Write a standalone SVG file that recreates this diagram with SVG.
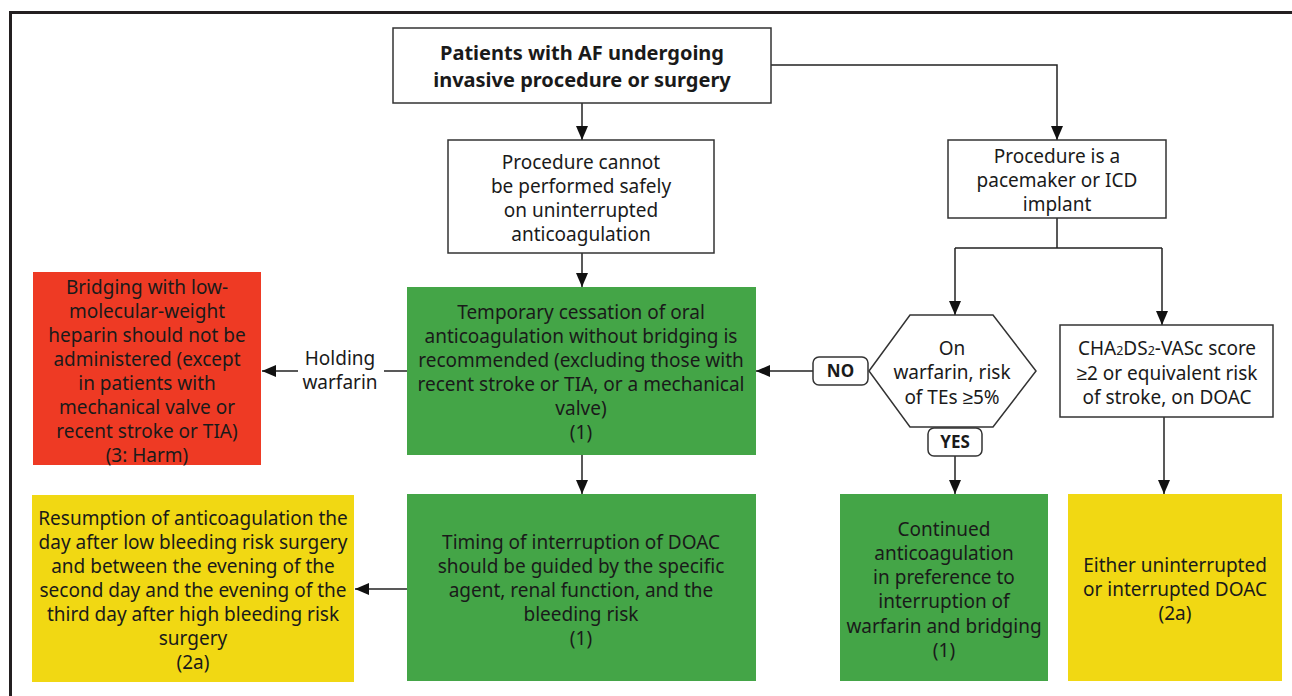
<svg xmlns="http://www.w3.org/2000/svg" width="1292" height="696" viewBox="0 0 1292 696">
<defs>
<style>
.t{font-family:"Noto Sans","Liberation Sans",sans-serif;font-size:19px;fill:#1a1a1a;text-anchor:middle}
.b{font-weight:bold}
.wb{fill:#fff;stroke:#333;stroke-width:1.5}
.g{fill:#44a547}
.r{fill:#ee3a24}
.y{fill:#f1d813}
.c{fill:none;stroke:#222;stroke-width:1.5}
.lab{fill:#fff;stroke:#333;stroke-width:1.5}
</style>
<marker id="ah" viewBox="0 0 14 12" refX="14" refY="6" markerWidth="14" markerHeight="12" markerUnits="userSpaceOnUse" orient="auto">
<path d="M0,0 L14,6 L0,12 Z" fill="#111"/>
</marker>
</defs>
<rect width="1292" height="696" fill="#fff"/>
<path d="M10.5,696 V12.5 H1292" fill="none" stroke="#231f20" stroke-width="3"/>

<g id="connectors">
<path class="c" d="M582,103 V140" marker-end="url(#ah)"/>
<path class="c" d="M771,65 H1057 V140" marker-end="url(#ah)"/>
<path class="c" d="M582,253 V287" marker-end="url(#ah)"/>
<path class="c" d="M582,455 V494" marker-end="url(#ah)"/>
<path class="c" d="M1057,218 V248 M955,248 H1162"/>
<path class="c" d="M955,248 V315" marker-end="url(#ah)"/>
<path class="c" d="M1162,248 V325" marker-end="url(#ah)"/>
<path class="c" d="M813,371 H756" marker-end="url(#ah)"/>
<path class="c" d="M955,456 V494" marker-end="url(#ah)"/>
<path class="c" d="M1164,417 V494" marker-end="url(#ah)"/>
<path class="c" d="M407,371 H384"/>
<path class="c" d="M298,371 H262" marker-end="url(#ah)"/>
<path class="c" d="M407,589 H355" marker-end="url(#ah)"/>
<text class="t" x="340" y="365">Holding</text>
<text class="t" x="340" y="389">warfarin</text>
</g>

<g id="n_start">
<rect class="wb" x="393" y="28" width="378" height="75"/>
<text class="t b" x="582" y="60" style="font-size:20px">Patients with AF undergoing</text>
<text class="t b" x="582" y="87" style="font-size:20px">invasive procedure or surgery</text>
</g>

<g id="n_cannot">
<rect class="wb" x="448" y="140" width="266" height="113"/>
<text class="t" x="581" y="169">Procedure cannot</text>
<text class="t" x="581" y="193">be performed safely</text>
<text class="t" x="581" y="217">on uninterrupted</text>
<text class="t" x="581" y="241">anticoagulation</text>
</g>

<g id="n_pacemaker">
<rect class="wb" x="948" y="140" width="218" height="78"/>
<text class="t" x="1057" y="163">Procedure is a</text>
<text class="t" x="1057" y="187">pacemaker or ICD</text>
<text class="t" x="1057" y="211">implant</text>
</g>

<g id="n_cessation">
<rect class="g" x="407" y="287" width="349" height="168"/>
<text class="t" x="581" y="319">Temporary cessation of oral</text>
<text class="t" x="581" y="343">anticoagulation without bridging is</text>
<text class="t" x="581" y="367">recommended (excluding those with</text>
<text class="t" x="581" y="391">recent stroke or TIA, or a mechanical</text>
<text class="t" x="581" y="415">valve)</text>
<text class="t" x="581" y="439">(1)</text>
</g>

<g id="n_bridging">
<rect class="r" x="33" y="272" width="228" height="193"/>
<text class="t" x="147" y="294">Bridging with low-</text>
<text class="t" x="147" y="318">molecular-weight</text>
<text class="t" x="147" y="342">heparin should not be</text>
<text class="t" x="147" y="366">administered (except</text>
<text class="t" x="147" y="390">in patients with</text>
<text class="t" x="147" y="414">mechanical valve or</text>
<text class="t" x="147" y="438">recent stroke or TIA)</text>
<text class="t" x="147" y="462">(3: Harm)</text>
</g>

<g id="n_warfarin">
<polygon class="wb" points="869,371 910,315 993,315 1036,371 993,427 910,427"/>
<text class="t" x="952" y="355">On</text>
<text class="t" x="952" y="379">warfarin, risk</text>
<text class="t" x="952" y="404">of TEs ≥5%</text>
</g>

<g id="l_no">
<rect class="lab" x="813" y="357" width="55" height="28" rx="6"/>
<text class="t b" x="840.5" y="377" style="font-size:17px">NO</text>
</g>

<g id="l_yes">
<rect class="lab" x="928" y="428" width="54" height="28" rx="6"/>
<text class="t b" x="955" y="448" style="font-size:17px">YES</text>
</g>

<g id="n_cha">
<rect class="wb" x="1060" y="325" width="213" height="92"/>
<text class="t" x="1167" y="355">CHA<tspan style="font-size:12.5px">2</tspan>DS<tspan style="font-size:12.5px">2</tspan>-VASc score</text>
<text class="t" x="1167" y="380">≥2 or equivalent risk</text>
<text class="t" x="1167" y="404">of stroke, on DOAC</text>
</g>

<g id="n_timing">
<rect class="g" x="407" y="494" width="349" height="187"/>
<text class="t" x="581" y="549">Timing of interruption of DOAC</text>
<text class="t" x="581" y="573">should be guided by the specific</text>
<text class="t" x="581" y="597">agent, renal function, and the</text>
<text class="t" x="581" y="621">bleeding risk</text>
<text class="t" x="581" y="645">(1)</text>
</g>

<g id="n_resumption">
<rect class="y" x="32" y="495" width="322" height="187"/>
<text class="t" x="193" y="525">Resumption of anticoagulation the</text>
<text class="t" x="193" y="549">day after low bleeding risk surgery</text>
<text class="t" x="193" y="573">and between the evening of the</text>
<text class="t" x="193" y="597">second day and the evening of the</text>
<text class="t" x="193" y="621">third day after high bleeding risk</text>
<text class="t" x="193" y="645">surgery</text>
<text class="t" x="193" y="669">(2a)</text>
</g>

<g id="n_continued">
<rect class="g" x="840" y="494" width="208" height="187"/>
<text class="t" x="944" y="536">Continued</text>
<text class="t" x="944" y="560">anticoagulation</text>
<text class="t" x="944" y="584">in preference to</text>
<text class="t" x="944" y="608">interruption of</text>
<text class="t" x="944" y="633">warfarin and bridging</text>
<text class="t" x="944" y="657">(1)</text>
</g>

<g id="n_either">
<rect class="y" x="1068" y="494" width="214" height="187"/>
<text class="t" x="1175" y="572">Either uninterrupted</text>
<text class="t" x="1175" y="596">or interrupted DOAC</text>
<text class="t" x="1175" y="620">(2a)</text>
</g>
</svg>
